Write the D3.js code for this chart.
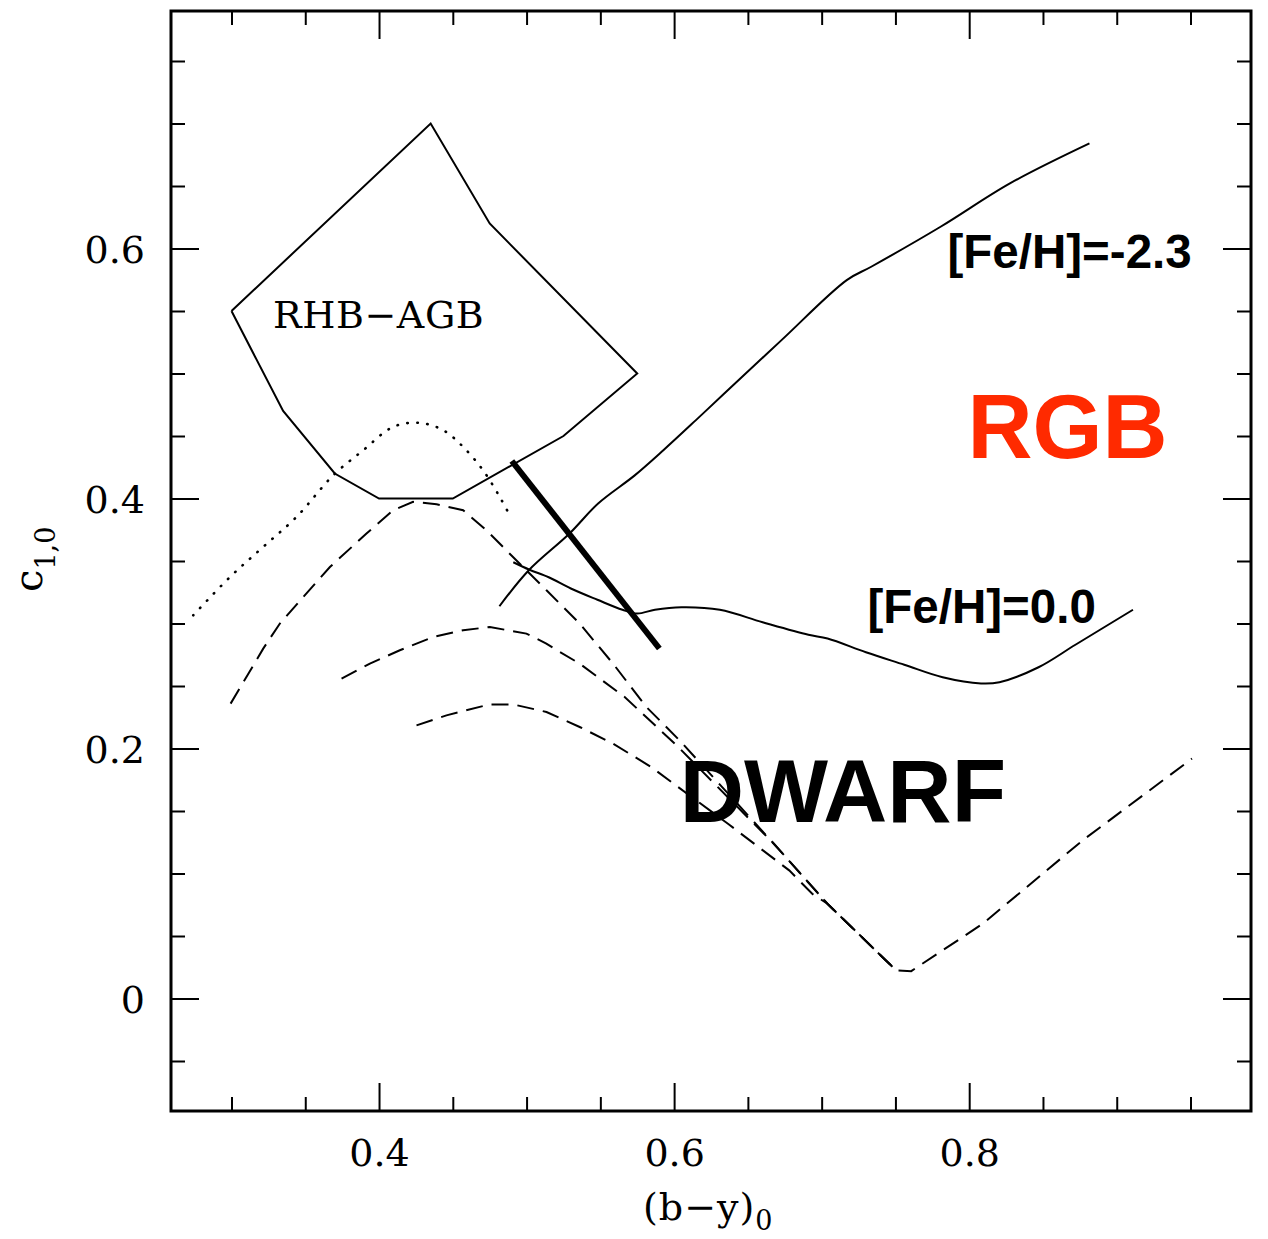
<!DOCTYPE html>
<html>
<head>
<meta charset="utf-8">
<script src="https://cdn.jsdelivr.net/npm/d3@7"></script>
<style>
  html, body { margin: 0; padding: 0; background: #fff; }
  svg { display: block; }
</style>
</head>
<body>
<div id="chart"></div>
<script>
// ---- axis ticks ----
const xMajorTicks = [0.4, 0.6, 0.8];
const xMinorTicks = [0.3, 0.35, 0.45, 0.5, 0.55, 0.65, 0.7, 0.75, 0.85, 0.9, 0.95];
const yMajorTicks = [0, 0.2, 0.4, 0.6];
const yMinorTicks = [-0.05, 0.05, 0.1, 0.15, 0.25, 0.3, 0.35, 0.45, 0.5, 0.55, 0.65, 0.7, 0.75];

// ---- RHB-AGB box outline [(b-y)0, c1,0] ----
const rhbAgbBox = [[0.300, 0.550], [0.435, 0.700], [0.475, 0.620], [0.575, 0.500], [0.525, 0.450],
                   [0.450, 0.400], [0.400, 0.400], [0.370, 0.420], [0.335, 0.470], [0.300, 0.550]];

// ---- RGB loci ----
const rgbMetalPoor = [[0.4816, 0.3138], [0.5015, 0.3426], [0.5291, 0.3720], [0.5485, 0.3960], [0.5733, 0.4185],
                      [0.5927, 0.4386], [0.6148, 0.4627], [0.6340, 0.4840], [0.6728, 0.5267], [0.7170, 0.5747],
                      [0.7336, 0.5854], [0.7806, 0.6174], [0.8276, 0.6521], [0.8815, 0.6841]];
const rgbSolar = [[0.491, 0.349], [0.502, 0.343], [0.515, 0.337], [0.530, 0.328], [0.548, 0.319], [0.565, 0.311],
                  [0.575, 0.308], [0.587, 0.311], [0.605, 0.313], [0.631, 0.311], [0.660, 0.301], [0.691, 0.291],
                  [0.704, 0.288], [0.730, 0.277], [0.756, 0.267], [0.782, 0.257], [0.808, 0.252], [0.8205, 0.253],
                  [0.847, 0.265], [0.872, 0.283], [0.911, 0.311]];

// ---- giant / dwarf dividing segment ----
const dividerLine = [[0.49, 0.43], [0.59, 0.28]];

// ---- dotted locus ----
const dottedLocus = [[0.2741, 0.3066], [0.2990, 0.3372], [0.3215, 0.3613], [0.3441, 0.3853], [0.3690, 0.4186],
                     [0.3893, 0.4386], [0.4096, 0.4573], [0.4276, 0.4605], [0.4434, 0.4547], [0.4570, 0.4413],
                     [0.4705, 0.4226], [0.4818, 0.4013], [0.4886, 0.3866]];

// ---- dashed dwarf sequences ----
const dwarfSeqA = [[0.2994, 0.2359], [0.3215, 0.2799], [0.3328, 0.3000], [0.3486, 0.3212], [0.3667, 0.3452],
                   [0.3915, 0.3720], [0.4096, 0.3906], [0.4231, 0.3973], [0.4390, 0.3954], [0.4570, 0.3906],
                   [0.4728, 0.3746], [0.4908, 0.3532], [0.5135, 0.3266], [0.5360, 0.2999], [0.5586, 0.2679],
                   [0.5812, 0.2332], [0.6037, 0.2065], [0.6676, 0.1238], [0.7039, 0.0758], [0.7506, 0.0224],
                   [0.7607, 0.0219], [0.8092, 0.0598], [0.8769, 0.1265], [0.9510, 0.1919]];
const dwarfSeqB = [[0.3746, 0.2559], [0.3938, 0.2679], [0.4141, 0.2786], [0.4367, 0.2892], [0.4570, 0.2946],
                   [0.4751, 0.2972], [0.4999, 0.2919], [0.5134, 0.2839], [0.5225, 0.2772], [0.5360, 0.2679],
                   [0.5665, 0.2412], [0.6028, 0.2012], [0.6676, 0.1238], [0.7039, 0.0758], [0.7506, 0.0224]];
const dwarfSeqC = [[0.4254, 0.2185], [0.4457, 0.2265], [0.4750, 0.2353], [0.4908, 0.2353], [0.5135, 0.2292],
                   [0.5360, 0.2172], [0.5586, 0.2039], [0.5846, 0.1851], [0.6028, 0.1691], [0.6365, 0.1398],
                   [0.6573, 0.1211], [0.6780, 0.1025], [0.6936, 0.0838], [0.7039, 0.0758], [0.7506, 0.0224]];

// ---- layout ----
const width = 1268, height = 1239;
const frame = { left: 171, right: 1251, top: 11, bottom: 1111 };
const serif = "'DejaVu Serif', 'Liberation Serif', serif";
const sans = "'Liberation Sans', Arial, Helvetica, sans-serif";

const svg = d3.select("#chart").append("svg")
  .attr("width", width).attr("height", height)
  .attr("viewBox", `0 0 ${width} ${height}`);

const x = d3.scaleLinear().domain([0.259, 0.991]).range([frame.left, frame.right]);
const y = d3.scaleLinear().domain([-0.09, 0.79]).range([frame.bottom, frame.top]);

const fmt = d => d === 0 ? "0" : d.toFixed(1);

function styleAxis(g, labels) {
  g.select(".domain").remove();
  g.selectAll(".tick line").attr("stroke", "#000").attr("stroke-width", 2);
  if (!labels) g.selectAll(".tick text").remove();
  return g;
}

// bottom axis
const gxB = svg.append("g").attr("transform", `translate(0,${frame.bottom})`)
  .call(d3.axisBottom(x).tickValues(xMajorTicks).tickSize(-28).tickFormat(fmt));
styleAxis(gxB, true);
gxB.selectAll(".tick text")
  .attr("y", 55).attr("dy", null)
  .attr("font-family", serif).attr("font-size", 38).attr("fill", "#000");
styleAxis(svg.append("g").attr("transform", `translate(0,${frame.bottom})`)
  .call(d3.axisBottom(x).tickValues(xMinorTicks).tickSize(-14).tickFormat("")), false);

// top axis
styleAxis(svg.append("g").attr("transform", `translate(0,${frame.top})`)
  .call(d3.axisTop(x).tickValues(xMajorTicks).tickSize(-28).tickFormat("")), false);
styleAxis(svg.append("g").attr("transform", `translate(0,${frame.top})`)
  .call(d3.axisTop(x).tickValues(xMinorTicks).tickSize(-14).tickFormat("")), false);

// left axis
const gyL = svg.append("g").attr("transform", `translate(${frame.left},0)`)
  .call(d3.axisLeft(y).tickValues(yMajorTicks).tickSize(-28).tickFormat(fmt));
styleAxis(gyL, true);
gyL.selectAll(".tick text")
  .attr("x", -26).attr("dy", "0.36em")
  .attr("font-family", serif).attr("font-size", 38).attr("fill", "#000");
styleAxis(svg.append("g").attr("transform", `translate(${frame.left},0)`)
  .call(d3.axisLeft(y).tickValues(yMinorTicks).tickSize(-14).tickFormat("")), false);

// right axis
styleAxis(svg.append("g").attr("transform", `translate(${frame.right},0)`)
  .call(d3.axisRight(y).tickValues(yMajorTicks).tickSize(-28).tickFormat("")), false);
styleAxis(svg.append("g").attr("transform", `translate(${frame.right},0)`)
  .call(d3.axisRight(y).tickValues(yMinorTicks).tickSize(-14).tickFormat("")), false);

// plot frame
svg.append("rect")
  .attr("x", frame.left).attr("y", frame.top)
  .attr("width", frame.right - frame.left).attr("height", frame.bottom - frame.top)
  .attr("fill", "none").attr("stroke", "#000").attr("stroke-width", 3);

// ---- curves ----
const line = d3.line().x(d => x(d[0])).y(d => y(d[1]));
const smooth = d3.line().x(d => x(d[0])).y(d => y(d[1])).curve(d3.curveCatmullRom.alpha(0.5));
const plot = svg.append("g").attr("fill", "none").attr("stroke", "#000");

plot.append("path").datum(rhbAgbBox).attr("d", line)
  .attr("stroke-width", 2).attr("stroke-linejoin", "miter");

plot.append("path").datum(dottedLocus).attr("d", smooth)
  .attr("stroke-width", 2.6).attr("stroke-linecap", "round").attr("stroke-dasharray", "0.5 9.5");

// dwarf sequences keep their sharp turn-off at the bottom of the V
[dwarfSeqA, dwarfSeqB, dwarfSeqC].forEach(seq => {
  plot.append("path").datum(seq).attr("d", line)
    .attr("stroke-width", 2).attr("stroke-dasharray", "17 9");
});

plot.append("path").datum(rgbMetalPoor).attr("d", smooth).attr("stroke-width", 2);
plot.append("path").datum(rgbSolar).attr("d", smooth).attr("stroke-width", 2);

plot.append("path").datum(dividerLine).attr("d", line).attr("stroke-width", 6);

// ---- annotations ----
svg.append("text").attr("x", x(0.3281)).attr("y", y(0.5364))
  .attr("font-family", serif).attr("font-size", 38).attr("letter-spacing", 0.6).attr("fill", "#000")
  .text("RHB\u2212AGB");

svg.append("text").attr("x", x(0.7853)).attr("y", y(0.5844))
  .attr("font-family", sans).attr("font-weight", "bold").attr("font-size", 47.5).attr("fill", "#000")
  .text("[Fe/H]=-2.3");

svg.append("text").attr("x", x(0.7311)).attr("y", y(0.3004))
  .attr("font-family", sans).attr("font-weight", "bold").attr("font-size", 47.5).attr("fill", "#000")
  .text("[Fe/H]=0.0");

svg.append("text").attr("x", x(0.7989)).attr("y", y(0.4324))
  .attr("font-family", sans).attr("font-weight", "bold").attr("font-size", 90).attr("fill", "#ff2a00")
  .text("RGB");

svg.append("text").attr("x", x(0.6038)).attr("y", y(0.1412))
  .attr("font-family", sans).attr("font-weight", "bold").attr("font-size", 89).attr("fill", "#000")
  .text("DWARF");

// ---- axis titles ----
const xTitle = svg.append("text").attr("x", 643).attr("y", 1220)
  .attr("font-family", serif).attr("font-size", 38).attr("fill", "#000");
xTitle.append("tspan").attr("letter-spacing", 1).text("(b\u2212y)");
xTitle.append("tspan").attr("dy", 10).attr("font-size", 27).text("0");

const yTitle = svg.append("text").attr("transform", "translate(42,592) rotate(-90)")
  .attr("font-family", serif).attr("font-size", 40).attr("fill", "#000");
yTitle.append("tspan").text("c");
yTitle.append("tspan").attr("dy", 13).attr("font-size", 27).text("1,0");
</script>
</body>
</html>
